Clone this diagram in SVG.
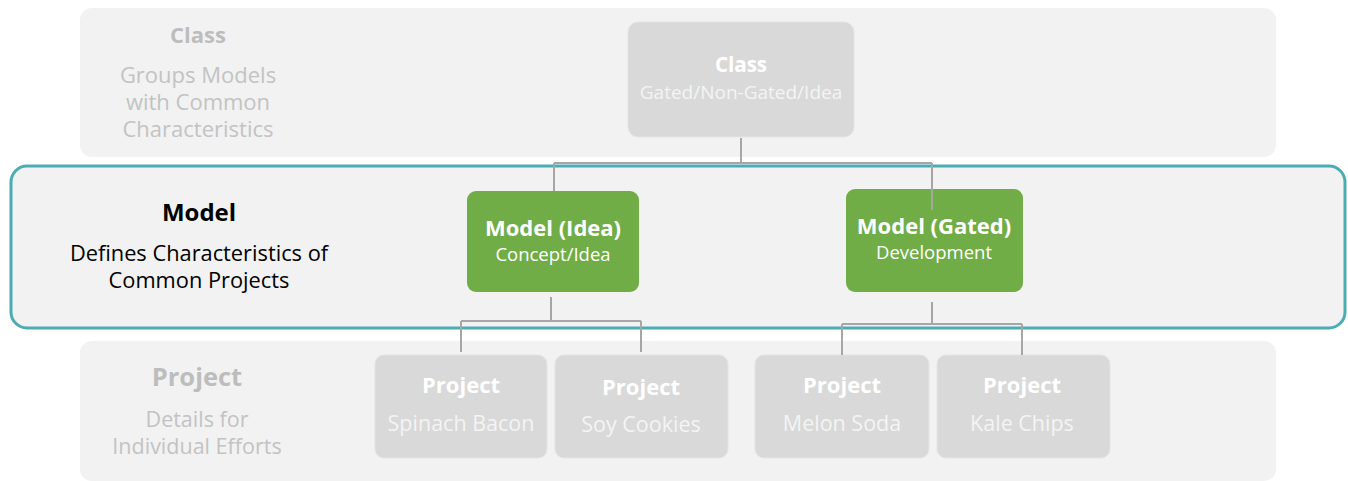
<svg xmlns="http://www.w3.org/2000/svg" width="1348" height="481" viewBox="0 0 1348 481">
<style>
.band{fill:#f2f2f2}
.gnode{fill:#d9d9d9;stroke:#e4e4e4;stroke-width:1}
.green{fill:#70ad47}
.conn{fill:none;stroke:#a6a6a6;stroke-width:2}
text{font-family:"Open Sans","Liberation Sans",sans-serif;text-anchor:middle}
.wb{fill:#ffffff;font-weight:bold;font-size:22px}
.w{fill:#ffffff;font-size:18.5px}
.wn{fill:#f4f4f4;font-size:21.5px}
.lg{fill:#c3c3c3;font-size:22px}
.lgb{fill:#bdbdbd;font-weight:bold;font-size:22px}
.bk{fill:#000000;font-size:21.8px}
</style>
<rect class="band" x="80" y="8" width="1196" height="149" rx="12"/>
<rect class="band" x="80" y="341" width="1196" height="140" rx="12"/>
<rect x="11" y="166" width="1334" height="162" rx="16" fill="#f2f2f2" stroke="#4bacb4" stroke-width="3"/>
<g id="label-class">
<text class="lgb" x="198" y="43">Class</text>
<text class="lg" x="198" y="83">Groups Models</text>
<text class="lg" x="198" y="110">with Common</text>
<text class="lg" x="198" y="137">Characteristics</text>
</g>
<g id="label-model">
<text class="bk" x="199" y="221" style="font-weight:bold;font-size:24px">Model</text>
<text class="bk" x="199" y="261">Defines Characteristics of</text>
<text class="bk" x="199" y="288">Common Projects</text>
</g>
<g id="label-project">
<text class="lgb" x="197" y="386" style="font-size:25.5px">Project</text>
<text class="lg" x="197" y="427" style="font-size:21.5px">Details for</text>
<text class="lg" x="197" y="454" style="font-size:21.5px">Individual Efforts</text>
</g>
<g id="node-class">
<rect class="gnode" x="628" y="22" width="226" height="115" rx="10"/>
<text class="wb" x="741" y="72" style="font-size:20.5px">Class</text>
<text class="wn" x="741" y="99" style="font-size:19px">Gated/Non-Gated/Idea</text>
</g>
<g id="node-model-idea">
<rect class="green" x="467" y="191" width="172" height="101" rx="9"/>
<text class="wb" x="553" y="236">Model (Idea)</text>
<text class="w" x="553" y="261">Concept/Idea</text>
</g>
<g id="node-model-gated">
<rect class="green" x="846" y="189" width="177" height="103" rx="9"/>
<text class="wb" x="934" y="234">Model (Gated)</text>
<text class="w" x="934" y="259">Development</text>
</g>
<g id="node-spinach">
<rect class="gnode" x="375" y="355" width="172" height="103" rx="9"/>
<text class="wb" x="461" y="393">Project</text>
<text class="wn" x="461" y="431">Spinach Bacon</text>
</g>
<g id="node-soy">
<rect class="gnode" x="555" y="355" width="173" height="103" rx="9"/>
<text class="wb" x="641" y="395">Project</text>
<text class="wn" x="641" y="432">Soy Cookies</text>
</g>
<g id="node-melon">
<rect class="gnode" x="755" y="355" width="174" height="103" rx="9"/>
<text class="wb" x="842" y="393">Project</text>
<text class="wn" x="842" y="431">Melon Soda</text>
</g>
<g id="node-kale">
<rect class="gnode" x="937" y="355" width="173" height="103" rx="9"/>
<text class="wb" x="1022" y="393">Project</text>
<text class="wn" x="1022" y="431">Kale Chips</text>
</g>
<g id="connectors">
<path class="conn" d="M741,138 V163 M554,163 H932 M554,163 V191 M932,163 V210"/>
<path class="conn" d="M551,297 V321 M461,321 H641 M461,321 V352 M641,321 V352"/>
<path class="conn" d="M932,302 V324 M842,324 H1022 M842,324 V355 M1022,324 V355"/>
</g>
</svg>
